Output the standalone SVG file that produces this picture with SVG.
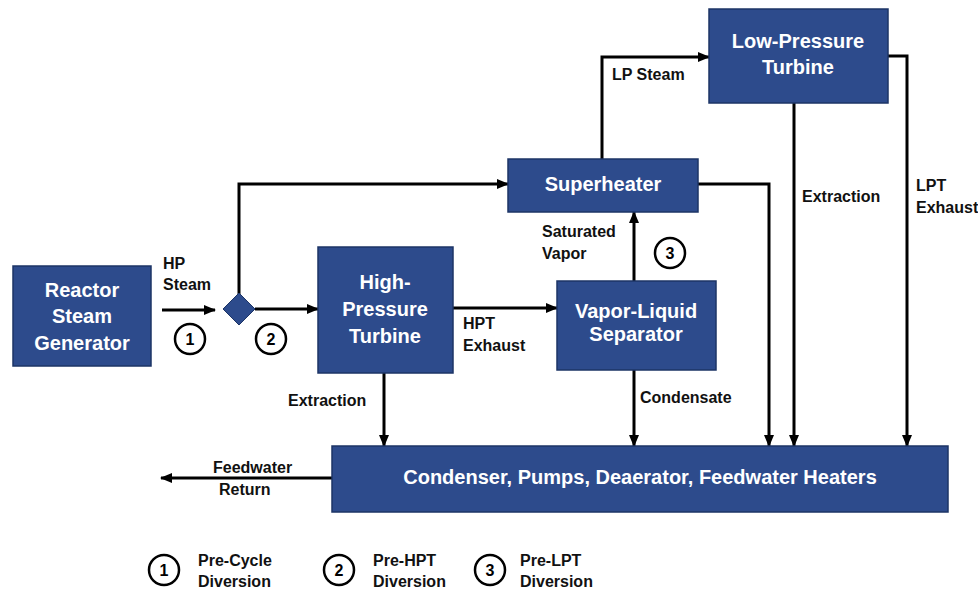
<svg xmlns="http://www.w3.org/2000/svg" width="978" height="592" viewBox="0 0 978 592">
<style>
.box{fill:#2D4B8C;stroke:#1C3466;stroke-width:1.5}
.nt{font-family:"Liberation Sans",Arial,sans-serif;font-weight:bold;font-size:20px;fill:#fff;text-anchor:middle}
.lb{font-family:"Liberation Sans",Arial,sans-serif;font-weight:bold;font-size:16px;fill:#111}
.ln{fill:none;stroke:#000;stroke-width:3}
.cir{fill:#fff;stroke:#000;stroke-width:2.5}
.num{font-family:"Liberation Sans",Arial,sans-serif;font-weight:bold;font-size:16px;fill:#000;text-anchor:middle}
</style>
<defs>
<marker id="ah" markerWidth="12" markerHeight="10" refX="11" refY="5" orient="auto" markerUnits="userSpaceOnUse">
<path d="M0,0 L12,5 L0,10 z" fill="#000"/>
</marker>
</defs>
<rect width="978" height="592" fill="#fff"/>

<g id="connectors">
<line class="ln" x1="162" y1="310" x2="215" y2="310" marker-end="url(#ah)"/>
<polyline class="ln" points="239,295 239,184 508,184" marker-end="url(#ah)"/>
<line class="ln" x1="255" y1="309" x2="318" y2="309" marker-end="url(#ah)"/>
<line class="ln" x1="453" y1="308" x2="557" y2="308" marker-end="url(#ah)"/>
<line class="ln" x1="634" y1="281" x2="634" y2="212" marker-end="url(#ah)"/>
<polyline class="ln" points="602,159 602,57 709,57" marker-end="url(#ah)"/>
<polyline class="ln" points="698,184 769,184 769,446" marker-end="url(#ah)"/>
<line class="ln" x1="794" y1="103" x2="794" y2="446" marker-end="url(#ah)"/>
<polyline class="ln" points="888,56 907,56 907,446" marker-end="url(#ah)"/>
<line class="ln" x1="384" y1="373" x2="384" y2="446" marker-end="url(#ah)"/>
<line class="ln" x1="634" y1="370" x2="634" y2="446" marker-end="url(#ah)"/>
<line class="ln" x1="332" y1="478" x2="161" y2="478" marker-end="url(#ah)"/>
</g>

<g id="labels">
<text class="lb" x="163" y="269">HP</text>
<text class="lb" x="163" y="290">Steam</text>
<text class="lb" x="463" y="329">HPT</text>
<text class="lb" x="463" y="351">Exhaust</text>
<text class="lb" x="542" y="237">Saturated</text>
<text class="lb" x="542" y="259">Vapor</text>
<text class="lb" x="612" y="80">LP Steam</text>
<text class="lb" x="802" y="202">Extraction</text>
<text class="lb" x="916" y="191">LPT</text>
<text class="lb" x="916" y="213">Exhaust</text>
<text class="lb" x="288" y="406">Extraction</text>
<text class="lb" x="640" y="403">Condensate</text>
<text class="lb" x="213" y="473">Feedwater</text>
<text class="lb" x="219" y="495">Return</text>
</g>

<g id="markers-on-lines">
<circle class="cir" cx="190" cy="339" r="15"/><text class="num" x="190" y="345">1</text>
<circle class="cir" cx="271" cy="339" r="15"/><text class="num" x="271" y="345">2</text>
<circle class="cir" cx="670" cy="253" r="15"/><text class="num" x="670" y="259">3</text>
</g>

<g id="reactor">
<rect class="box" x="13" y="266" width="138" height="100"/>
<text class="nt" x="82" y="297">Reactor</text>
<text class="nt" x="82" y="323">Steam</text>
<text class="nt" x="82" y="350">Generator</text>
</g>
<g id="splitter">
<polygon points="239,293 255,309 239,325 223,309" fill="#2D4B8C" stroke="#1C3466" stroke-width="1"/>
</g>
<g id="hpt">
<rect class="box" x="318" y="247" width="135" height="126"/>
<text class="nt" x="385" y="289">High-</text>
<text class="nt" x="385" y="316">Pressure</text>
<text class="nt" x="385" y="343">Turbine</text>
</g>
<g id="superheater">
<rect class="box" x="508" y="159" width="190" height="53"/>
<text class="nt" x="603" y="191">Superheater</text>
</g>
<g id="separator">
<rect class="box" x="557" y="281" width="159" height="89"/>
<text class="nt" x="636" y="318">Vapor-Liquid</text>
<text class="nt" x="636" y="341">Separator</text>
</g>
<g id="lpt">
<rect class="box" x="709" y="9" width="179" height="94"/>
<text class="nt" x="798" y="48">Low-Pressure</text>
<text class="nt" x="798" y="74">Turbine</text>
</g>
<g id="condenser">
<rect class="box" x="332" y="446" width="616" height="66"/>
<text class="nt" x="640" y="484">Condenser, Pumps, Deaerator, Feedwater Heaters</text>
</g>

<g id="legend">
<circle class="cir" cx="164" cy="570" r="15"/><text class="num" x="164" y="576">1</text>
<text class="lb" x="198" y="566">Pre-Cycle</text>
<text class="lb" x="198" y="587">Diversion</text>
<circle class="cir" cx="339" cy="570" r="15"/><text class="num" x="339" y="576">2</text>
<text class="lb" x="373" y="566">Pre-HPT</text>
<text class="lb" x="373" y="587">Diversion</text>
<circle class="cir" cx="490" cy="570" r="15"/><text class="num" x="490" y="576">3</text>
<text class="lb" x="520" y="566">Pre-LPT</text>
<text class="lb" x="520" y="587">Diversion</text>
</g>
</svg>
